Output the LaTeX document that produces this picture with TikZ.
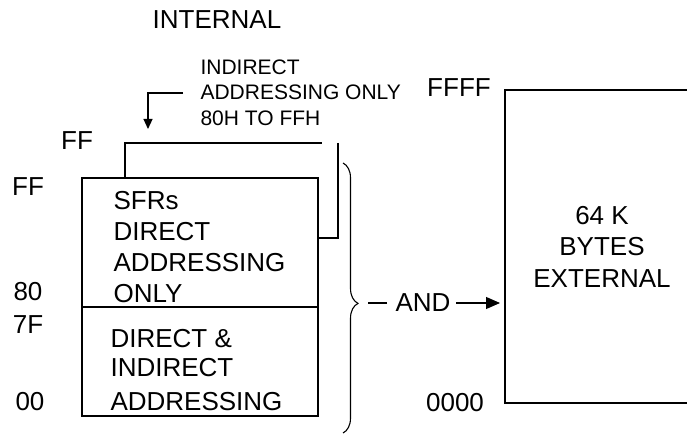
\documentclass[tikz,border=0pt]{standalone}
\usepackage{fontspec}
\setmainfont{Liberation Sans}
\usetikzlibrary{arrows.meta, decorations.pathreplacing}

\tikzset{
  big/.style={font=\fontsize{26}{31}\selectfont, inner sep=0pt},
  small/.style={font=\fontsize{21}{25.5}\selectfont, inner sep=0pt},
}

\begin{document}
\begin{tikzpicture}[x=1pt, y=-1pt, line width=1.1pt]
\useasboundingbox (0,0) rectangle (687,435);

% internal RAM
\node[big] (internal) at (217,20) {INTERNAL};

\draw (82,178) rectangle (318,416);
\draw (82,307) -- (318,307);
\draw (125,178) -- (125,143) -- (322,143);
\draw (338,143) -- (338,238) -- (318,238);

% multi-line nodes sit on the baseline of their last line
\node[big, anchor=base west, align=left] (sfr) at (113,302.3) {SFRs\\DIRECT\\ADDRESSING\\ONLY};
\node[big, font=\fontsize{26}{29}\selectfont, anchor=base west, align=left] (lower) at (110,410) {DIRECT \&\\INDIRECT\\[5pt]ADDRESSING};

\node[small, anchor=base west, align=left] (upper) at (200,125.5) {INDIRECT\\ADDRESSING ONLY\\80H TO FFH};
\coordinate (ptr-start) at (183,93);
\coordinate (ptr) at (148,129);
\draw[-{Triangle[length=10pt,width=9pt]}] (ptr-start) -| (ptr);

\node[big] (ff-hi) at (77,141) {FF};
\node[big] (ff) at (28,187) {FF};
\node[big] (a80) at (28,292) {80};
\node[big] (a7f) at (28,325) {7F};
\node[big] (a00) at (30,402) {00};

\draw[decorate, decoration={brace, amplitude=15pt, aspect=0.52}] (343,163) -- (343,433);
\coordinate (tip) at (358,303);

% external memory
\node[big] (and) at (423,303) {AND};
\draw[shorten <=8pt, shorten >=10pt] (and.west) -- (tip);
\coordinate (ext-w) at (505,303);
\draw[-{Triangle[length=14pt,width=12pt]}, shorten <=5pt, shorten >=5pt] (and.east) -- (ext-w);

\draw (690,90) -- (505,90) -- (505,403) -- (690,403);
\node[big, font=\fontsize{26}{31.5}\selectfont, anchor=base, align=center] (ext) at (602,287.3) {64 K\\BYTES\\EXTERNAL};

\node[big] (ffff) at (459,88) {FFFF};
\node[big] (zero) at (455,403) {0000};
\end{tikzpicture}
\end{document}
